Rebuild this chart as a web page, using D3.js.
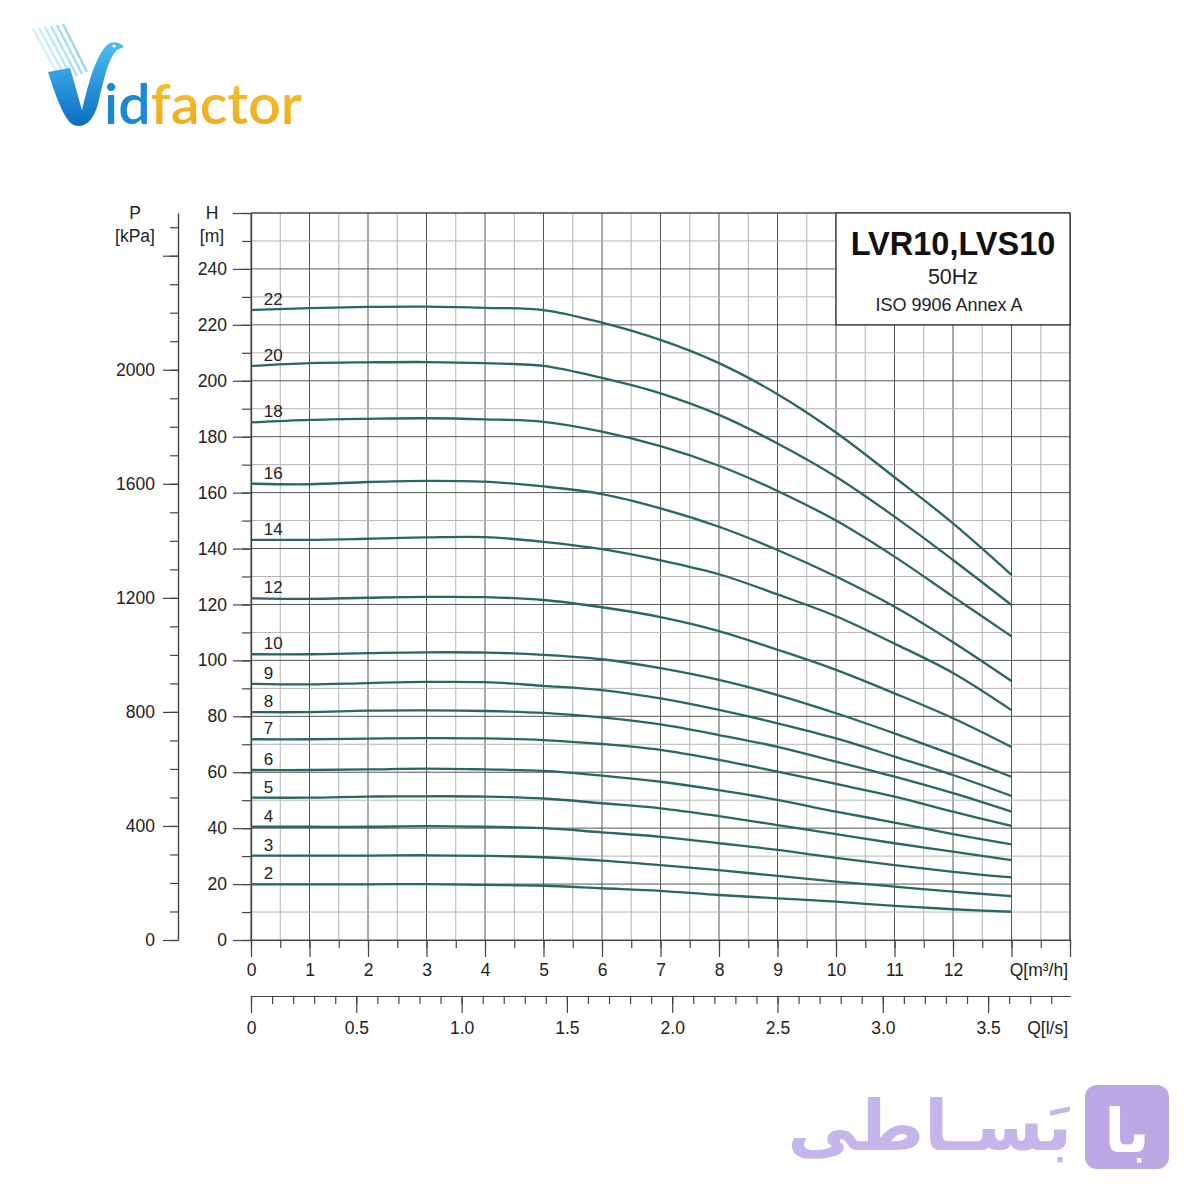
<!DOCTYPE html>
<html><head><meta charset="utf-8">
<script src="https://cdn.jsdelivr.net/npm/d3@7"></script>
<style>body{margin:0;background:#fff} svg{display:block}</style>
</head><body>
<svg id="c" width="1200" height="1200"></svg>
<script>
// ---------- DATA ----------
const flowM3h = [0,1,2,3,4,5,6,7,8,9,10,11,12,13];
const stageLabels = ["22","20","18","16","14","12","10","9","8","7","6","5","4","3","2"];
const head22 = [225.3,226.0,226.4,226.5,226.1,225.3,220.8,214.6,206.3,195.2,181.5,165.5,149.0,130.6];
const head20 = [205.3,206.3,206.6,206.7,206.3,205.3,201.0,195.5,187.8,177.6,165.7,151.4,135.9,119.8];
const head18 = [185.1,186.0,186.4,186.6,186.2,185.3,181.8,176.6,169.6,160.6,150.0,137.1,122.8,108.6];
const head16 = [163.2,163.0,163.8,164.2,163.9,162.2,159.5,154.4,147.8,139.5,130.0,119.2,106.5,92.6];
const head14 = [143.1,143.1,143.5,144.0,144.1,142.4,139.8,135.8,130.8,123.6,115.8,106.0,95.5,82.2];
const head12 = [122.2,122.0,122.4,122.7,122.6,121.6,119.0,115.5,110.5,103.8,96.6,88.2,79.3,69.0];
const head10 = [102.2,102.2,102.6,102.9,102.8,102.0,100.4,97.2,93.0,87.6,81.1,73.9,66.3,58.4];
const head9  = [91.6,91.4,91.9,92.3,92.2,90.9,89.4,86.4,82.3,77.5,72.1,65.6,59.0,51.5];
const head8  = [81.5,81.5,82.0,82.1,81.9,81.2,79.6,77.1,73.3,69.1,63.8,58.4,52.5,45.9];
const head7  = [71.8,71.8,72.0,72.2,72.1,71.5,70.1,68.0,64.4,60.2,55.8,51.3,45.9,40.8];
const head6  = [60.8,60.8,61.0,61.3,61.0,60.5,58.8,56.6,53.6,50.1,45.9,42.0,37.9,34.2];
const head5  = [50.9,50.9,51.3,51.4,51.3,50.6,48.9,47.1,44.3,41.1,37.9,34.6,31.6,28.6];
const head4  = [40.5,40.5,40.5,40.7,40.5,40.0,38.5,36.9,34.6,32.2,29.4,26.8,24.4,22.4];
const head3  = [30.2,30.2,30.2,30.3,30.1,29.6,28.4,26.8,25.0,22.9,20.9,19.1,17.3,15.7];
const head2  = [19.9,19.9,19.9,20.0,19.7,19.4,18.5,17.6,16.1,14.9,13.7,12.2,11.0,10.1];
const headSeries = [head22,head20,head18,head16,head14,head12,head10,head9,head8,head7,head6,head5,head4,head3,head2];

const pressureTicks = d3.range(0, 26).map(i => i * 100);
const pressureLabels = [0,400,800,1200,1600,2000];
const headTicks = d3.range(0, 27).map(i => i * 10);
const headLabels = d3.range(0, 13).map(i => i * 20);
const flowTicks = d3.range(0, 29).map(i => i * 0.5);
const flowLabels = d3.range(0, 13);
const lpsTicks = d3.range(0, 39).map(i => i / 10);
const lpsLabels = [0,0.5,1.0,1.5,2.0,2.5,3.0,3.5];

const titleMain = "LVR10,LVS10";
const titleFreq = "50Hz";
const titleStd = "ISO 9906 Annex A";

// ---------- SCALES ----------
const svg = d3.select("#c");
const FONT = "'Liberation Sans', Arial, sans-serif";
const FS = 17.5;
const x = d3.scaleLinear().domain([0, 14]).range([251, 1070]);
const xl = d3.scaleLinear().domain([0, 14 / 3.6]).range([251, 1070]);
const y = d3.scaleLinear().domain([0, 260]).range([940, 213]);
const yP = d3.scaleLinear().domain([0, 260 * 9.80665]).range([940, 213]);

svg.append("rect").attr("width",1200).attr("height",1200).attr("fill","#fff");

// ---------- GRID ----------
const grid = svg.append("g");
grid.selectAll("line.v").data(flowTicks).join("line")
  .attr("x1", d => x(d)).attr("x2", d => x(d))
  .attr("y1", y(0)).attr("y2", y(260))
  .attr("stroke", d => Number.isInteger(d) ? "#555" : "#b4b4b4")
  .attr("stroke-width", 1);
grid.selectAll("line.h").data(headTicks).join("line")
  .attr("x1", x(0)).attr("x2", x(14))
  .attr("y1", d => y(d)).attr("y2", d => y(d))
  .attr("stroke", d => d % 20 === 0 ? "#555" : "#b4b4b4")
  .attr("stroke-width", 1);

// ---------- AXES ----------
function styleAxis(g, showText) {
  g.selectAll("path.domain").attr("stroke", "#444").attr("stroke-width", 1.2);
  g.selectAll(".tick line").attr("stroke", "#444").attr("stroke-width", 1.2);
  g.selectAll("text").attr("font-family", FONT).attr("font-size", FS).attr("fill", "#222");
  if (!showText) g.selectAll("text").remove();
}
// H axis
svg.append("g").attr("transform", `translate(${x(0)},0)`)
  .call(d3.axisLeft(y).tickValues(headTicks).tickSize(9).tickSizeOuter(0).tickFormat(""))
  .call(g => styleAxis(g, false));
svg.append("g").attr("transform", `translate(${x(0)},0)`)
  .call(d3.axisLeft(y).tickValues(headTicks.filter(d => d % 20 === 0)).tickSize(18).tickPadding(6).tickSizeOuter(0)
    .tickFormat(d => headLabels.includes(d) ? d : ""))
  .call(g => styleAxis(g, true));
// P axis
svg.append("g").attr("transform", "translate(178,0)")
  .call(d3.axisLeft(yP).tickValues(pressureTicks).tickSize(8).tickSizeOuter(0).tickFormat(""))
  .call(g => styleAxis(g, false));
svg.append("g").attr("transform", "translate(178,0)")
  .call(d3.axisLeft(yP).tickValues(pressureTicks.filter(d => d % 400 === 0)).tickSize(15).tickPadding(8).tickSizeOuter(0)
    .tickFormat(d => pressureLabels.includes(d) ? d : ""))
  .call(g => styleAxis(g, true));
// Q m3/h axis
svg.append("g").attr("transform", `translate(0,${y(0)})`)
  .call(d3.axisBottom(x).tickValues(flowTicks).tickSize(8).tickSizeOuter(0).tickFormat(""))
  .call(g => styleAxis(g, false));
svg.append("g").attr("transform", `translate(0,${y(0)})`)
  .call(d3.axisBottom(x).tickValues(flowTicks.filter(Number.isInteger)).tickSize(17).tickPadding(7).tickSizeOuter(0)
    .tickFormat(d => flowLabels.includes(d) ? d : ""))
  .call(g => styleAxis(g, true));
// Q l/s axis
svg.append("g").attr("transform", "translate(0,996)")
  .call(d3.axisBottom(xl).tickValues(lpsTicks).tickSize(8).tickSizeOuter(0).tickFormat(""))
  .call(g => styleAxis(g, false));
svg.append("g").attr("transform", "translate(0,996)")
  .call(d3.axisBottom(xl).tickValues(lpsLabels).tickSize(17).tickPadding(9).tickSizeOuter(0)
    .tickFormat(d => d === 0 ? "0" : d3.format(".1f")(d)))
  .call(g => styleAxis(g, true));

// top / right border
svg.append("line").attr("x1", x(0)).attr("x2", x(14)).attr("y1", y(260)).attr("y2", y(260))
  .attr("stroke", "#444").attr("stroke-width", 1.2);
svg.append("line").attr("x1", x(14)).attr("x2", x(14)).attr("y1", y(260)).attr("y2", y(0))
  .attr("stroke", "#444").attr("stroke-width", 1.2);

// axis titles
const tt = svg.append("g").attr("font-family", FONT).attr("font-size", FS).attr("fill", "#222");
tt.append("text").attr("x", 135).attr("y", 219).attr("text-anchor", "middle").text("P");
tt.append("text").attr("x", 135).attr("y", 242).attr("text-anchor", "middle").text("[kPa]");
tt.append("text").attr("x", 212).attr("y", 219).attr("text-anchor", "middle").text("H");
tt.append("text").attr("x", 212).attr("y", 242).attr("text-anchor", "middle").text("[m]");
tt.append("text").attr("x", 1068).attr("y", 976).attr("text-anchor", "end").text("Q[m³/h]");
tt.append("text").attr("x", 1068).attr("y", 1034).attr("text-anchor", "end").text("Q[l/s]");

// ---------- CURVES ----------
const line = d3.line().x(d => x(d[0])).y(d => y(d[1])).curve(d3.curveCatmullRom.alpha(0.5));
const curves = svg.append("g");
headSeries.forEach((hs, i) => {
  const pts = flowM3h.map((q, j) => [q, hs[j]]);
  curves.append("path").attr("d", line(pts)).attr("fill", "none")
    .attr("stroke", "#2a6662").attr("stroke-width", 2.3);
  curves.append("text").attr("x", x(0.22)).attr("y", y(hs[0]) - 5)
    .attr("font-family", FONT).attr("font-size", 17).attr("fill", "#222")
    .text(stageLabels[i]);
});

// ---------- TITLE BOX ----------
const bx = svg.append("g");
bx.append("rect").attr("x", 836).attr("y", y(260)).attr("width", x(14) - 836).attr("height", y(220) - y(260))
  .attr("fill", "#fff").attr("stroke", "#333").attr("stroke-width", 1.3);
bx.append("text").attr("x", 953).attr("y", 255).attr("text-anchor", "middle")
  .attr("font-family", FONT).attr("font-weight", "bold").attr("font-size", 32.5).attr("fill", "#111").text(titleMain);
bx.append("text").attr("x", 953).attr("y", 284).attr("text-anchor", "middle")
  .attr("font-family", FONT).attr("font-size", 21.5).attr("fill", "#222").text(titleFreq);
bx.append("text").attr("x", 949).attr("y", 311).attr("text-anchor", "middle")
  .attr("font-family", FONT).attr("font-size", 18).attr("fill", "#222").text(titleStd);

// ---------- LOGOS ----------
const defs = svg.append("defs");
const gb = defs.append("linearGradient").attr("id", "gb").attr("x1", 0).attr("y1", 0).attr("x2", 0).attr("y2", 1);
gb.append("stop").attr("offset", "0%").attr("stop-color", "#4cc0f2");
gb.append("stop").attr("offset", "100%").attr("stop-color", "#0d6cc2");
const go = defs.append("linearGradient").attr("id", "go").attr("x1", 0).attr("y1", 0).attr("x2", 0).attr("y2", 1);
go.append("stop").attr("offset", "0%").attr("stop-color", "#f7c532");
go.append("stop").attr("offset", "100%").attr("stop-color", "#eea61a");
const lg = svg.append("g");
for (let i = 0; i < 6; i++) {
  lg.append("line").attr("x1", 33 + i * 6).attr("y1", 29 - i * 1).attr("x2", 62 + i * 5).attr("y2", 82 - i * 2)
    .attr("stroke", "#7fcff3").attr("stroke-width", 2.2).attr("opacity", 0.35 + i * 0.1);
}
lg.append("path").attr("d",
  "M48 72 L70 68 C76 88 79 100 82 110 C88 86 94 60 106 46 C112 40 120 42 124 47 L117 50 C108 58 104 80 98 104 C94 118 88 126 78 126 C68 126 60 110 48 72 Z")
  .attr("fill", "url(#gb)");
lg.append("circle").attr("cx", 114).attr("cy", 46).attr("r", 1.6).attr("fill", "#fff");
const lt = lg.append("text").attr("x", 104).attr("y", 124).attr("font-family", "Lato, 'Open Sans', sans-serif")
  .attr("font-weight", 600).attr("font-size", 56).attr("textLength", 198).attr("lengthAdjust", "spacingAndGlyphs");
lt.append("tspan").attr("fill", "#1a88d4").text("id");
lt.append("tspan").attr("fill", "url(#go)").text("factor");

const rg = svg.append("g");
rg.append("rect").attr("x", 1085).attr("y", 1085).attr("width", 84).attr("height", 84).attr("rx", 12)
  .attr("fill", "#bba8e4");
rg.append("text").attr("x", 1127).attr("y", 1152).attr("text-anchor", "middle")
  .attr("font-family", "'DejaVu Sans', sans-serif").attr("font-weight", "bold").attr("font-size", 60)
  .attr("fill", "#fff").text("با");
rg.append("text").attr("x", 1072).attr("y", 1150).attr("text-anchor", "end")
  .attr("font-family", "'DejaVu Sans', sans-serif").attr("font-weight", "bold").attr("font-size", 70)
  .attr("fill", "#c4b5ea").text("بَسـاطی");
</script>
</body></html>
